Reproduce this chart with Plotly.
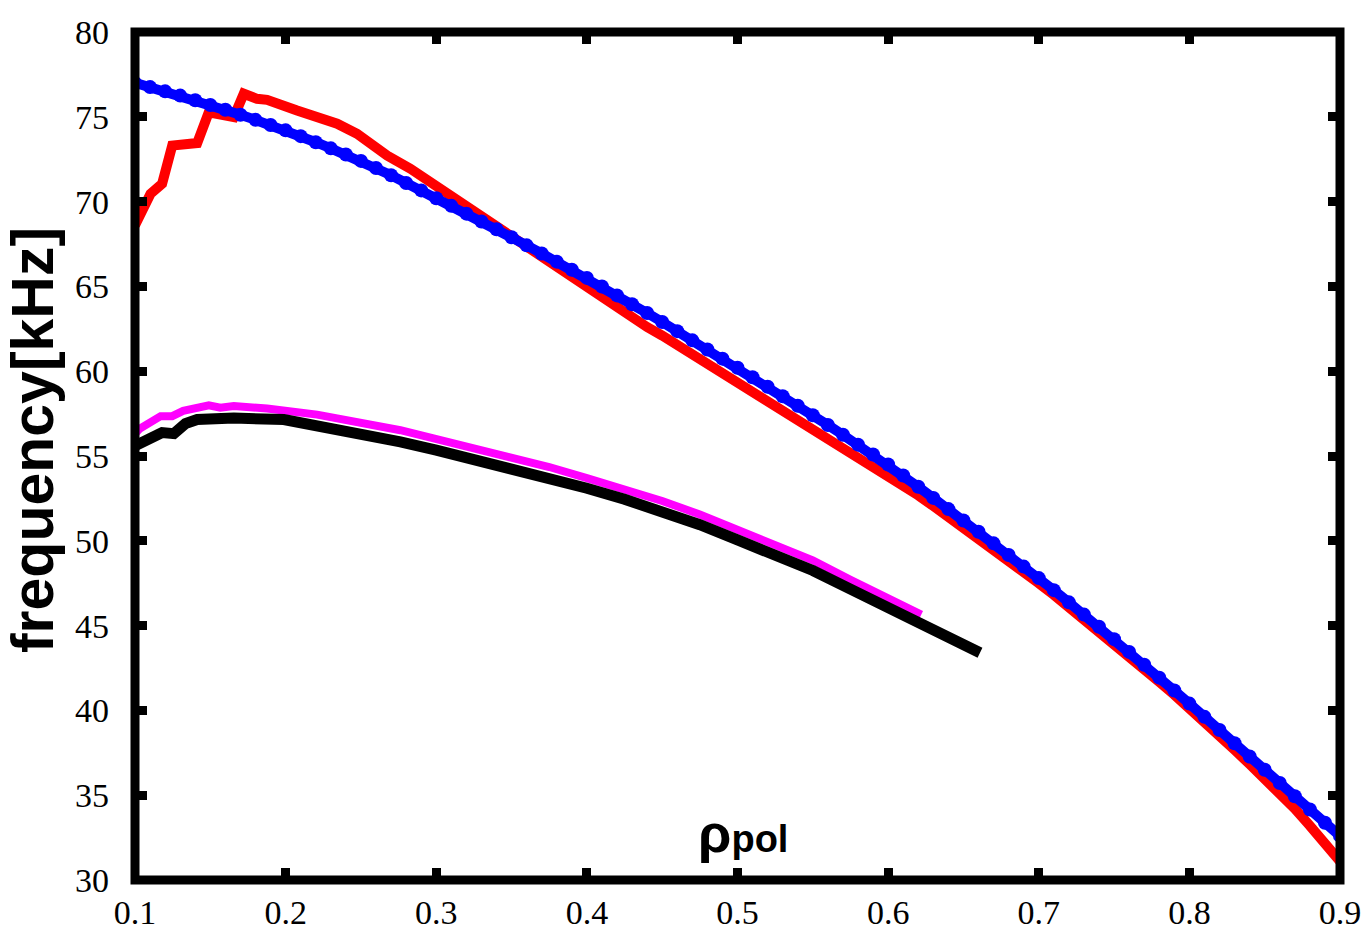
import plotly.graph_objects as go

# rho_pol grid shared by the two dense profiles (blue, red tail)
rho_fine = [round(0.10 + 0.01 * i, 2) for i in range(81)]

# blue profile, one value per 0.01 in rho_pol
f_blue = [
    77.0, 76.75, 76.5, 76.25, 75.98, 75.7, 75.42, 75.12, 74.82, 74.52,
    74.2, 73.86, 73.5, 73.14, 72.78, 72.4, 71.98, 71.55, 71.1, 70.66,
    70.2, 69.75, 69.29, 68.83, 68.37, 67.9, 67.42, 66.94, 66.46, 65.98,
    65.5, 64.99, 64.47, 63.95, 63.43, 62.9, 62.36, 61.82, 61.28, 60.74,
    60.2, 59.64, 59.08, 58.52, 57.96, 57.4, 56.83, 56.25, 55.67, 55.09,
    54.5, 53.85, 53.19, 52.53, 51.87, 51.2, 50.53, 49.85, 49.16, 48.48,
    47.8, 47.09, 46.37, 45.65, 44.93, 44.2, 43.45, 42.69, 41.93, 41.17,
    40.4, 39.62, 38.84, 38.06, 37.28, 36.5, 35.72, 34.94, 34.16, 33.38,
    32.6,
]

# red profile: irregular core samples, then 0.01 steps from 0.31
rho_red = [
    0.100, 0.1103, 0.118, 0.1247, 0.1413, 0.149, 0.1656, 0.1722, 0.181,
    0.1877, 0.2076, 0.2209, 0.2342, 0.2474, 0.2674, 0.2828, 0.3072,
] + rho_fine[21:]
f_red = [
    68.6, 70.46, 71.05, 73.3, 73.45, 75.27, 74.98, 76.36, 76.06,
    76.0, 75.37, 74.98, 74.59, 74.0, 72.72, 71.94, 70.47,
    70.3, 69.75, 69.2, 68.6, 67.95, 67.3, 66.7, 66.1, 65.5, 64.9,
    64.35, 63.8, 63.2, 62.6, 62.1, 61.55, 60.98, 60.42, 59.86, 59.3,
    58.75, 58.2, 57.65, 57.1, 56.55, 55.98, 55.42, 54.95, 54.45, 53.9,
    53.3, 52.68, 52.05, 51.42, 50.75, 50.12, 49.47, 48.82, 48.16, 47.5,
    46.81, 46.1, 45.39, 44.68, 43.95, 43.2, 42.44, 41.68, 40.92, 40.15,
    39.33, 38.5, 37.67, 36.83, 36.0, 35.1, 34.2, 33.2, 32.2, 31.1,
]

# magenta profile
rho_mag = [
    0.100, 0.103, 0.117, 0.1247, 0.132, 0.149, 0.1567, 0.1656, 0.1877,
    0.2209, 0.2762, 0.300, 0.325, 0.350, 0.375, 0.400, 0.425, 0.450,
    0.475, 0.500, 0.525, 0.550, 0.575, 0.600, 0.622,
]
f_mag = [
    56.3, 56.6, 57.35, 57.35, 57.66, 57.99, 57.85, 57.95, 57.8,
    57.44, 56.52, 56.0, 55.45, 54.95, 54.35, 53.7, 53.05, 52.35,
    51.55, 50.65, 49.75, 48.85, 47.7, 46.6, 45.65,
]

# black profile
rho_blk = [
    0.100, 0.103, 0.118, 0.1258, 0.1335, 0.1413, 0.1656, 0.1988, 0.2209,
    0.243, 0.2762, 0.300, 0.325, 0.350, 0.375, 0.400, 0.425, 0.450,
    0.475, 0.500, 0.525, 0.550, 0.575, 0.600, 0.620, 0.640, 0.661,
]
f_blk = [
    55.6, 55.75, 56.38, 56.32, 56.91, 57.15, 57.24, 57.15, 56.8,
    56.32, 55.83, 55.35, 54.8, 54.35, 53.75, 53.1, 52.45, 51.75,
    50.95, 50.05, 49.15, 48.25, 47.15, 46.05, 45.2, 44.3, 43.4,
]

x_ticks = [0.1, 0.2, 0.3, 0.4, 0.5, 0.6, 0.7, 0.8, 0.9]
x_ticklabels = ["0.1", "0.2", "0.3", "0.4", "0.5", "0.6", "0.7", "0.8", "0.9"]
y_ticks = [30, 35, 40, 45, 50, 55, 60, 65, 70, 75, 80]
y_ticklabels = [str(v) for v in y_ticks]

fig = go.Figure()
fig.add_trace(go.Scatter(x=rho_red, y=f_red, mode="lines",
                         line=dict(color="#ff0000", width=10), showlegend=False))
fig.add_trace(go.Scatter(x=rho_fine, y=f_blue, mode="lines+markers",
                         line=dict(color="#0000ff", width=10),
                         marker=dict(color="#0000ff", size=14, symbol="circle"),
                         showlegend=False))
fig.add_trace(go.Scatter(x=rho_mag, y=f_mag, mode="lines",
                         line=dict(color="#ff00ff", width=8), showlegend=False))
fig.add_trace(go.Scatter(x=rho_blk, y=f_blk, mode="lines",
                         line=dict(color="#000000", width=11), showlegend=False))

axis_common = dict(
    showline=False, mirror="ticks",
    ticks="inside", ticklen=12, tickwidth=9, tickcolor="black",
    showgrid=False, zeroline=False, automargin=False,
    tickfont=dict(family="Liberation Serif", size=34, color="black"),
)

fig.update_xaxes(range=[0.1, 0.9], tickvals=x_ticks, ticktext=x_ticklabels,
                 ticklabelstandoff=9, **axis_common)
fig.update_yaxes(range=[30, 80], tickvals=y_ticks, ticktext=y_ticklabels,
                 ticklabelstandoff=25, **axis_common)

# heavy frame centred on the plot-area edges
fig.add_shape(type="rect", xref="paper", yref="paper", x0=0, y0=0, x1=1, y1=1,
              line=dict(color="black", width=9), layer="above")

fig.add_annotation(
    text="<b>frequency[kHz]</b>", textangle=-90, showarrow=False,
    xref="paper", yref="paper", x=-0.0845, y=0.519,
    xanchor="center", yanchor="middle",
    font=dict(family="Liberation Sans", size=59, color="black"),
)
fig.add_annotation(
    text="<b>ρ<span style='font-size:38px'>pol</span></b>", showarrow=False,
    xref="paper", yref="paper", x=0.5045, y=0.0555,
    xanchor="center", yanchor="middle",
    font=dict(family="Liberation Sans", size=54, color="black"),
)

fig.update_layout(
    width=1368, height=931,
    margin=dict(l=135, r=28, t=32, b=51),
    paper_bgcolor="white", plot_bgcolor="white",
)

fig.write_html("out.html")
